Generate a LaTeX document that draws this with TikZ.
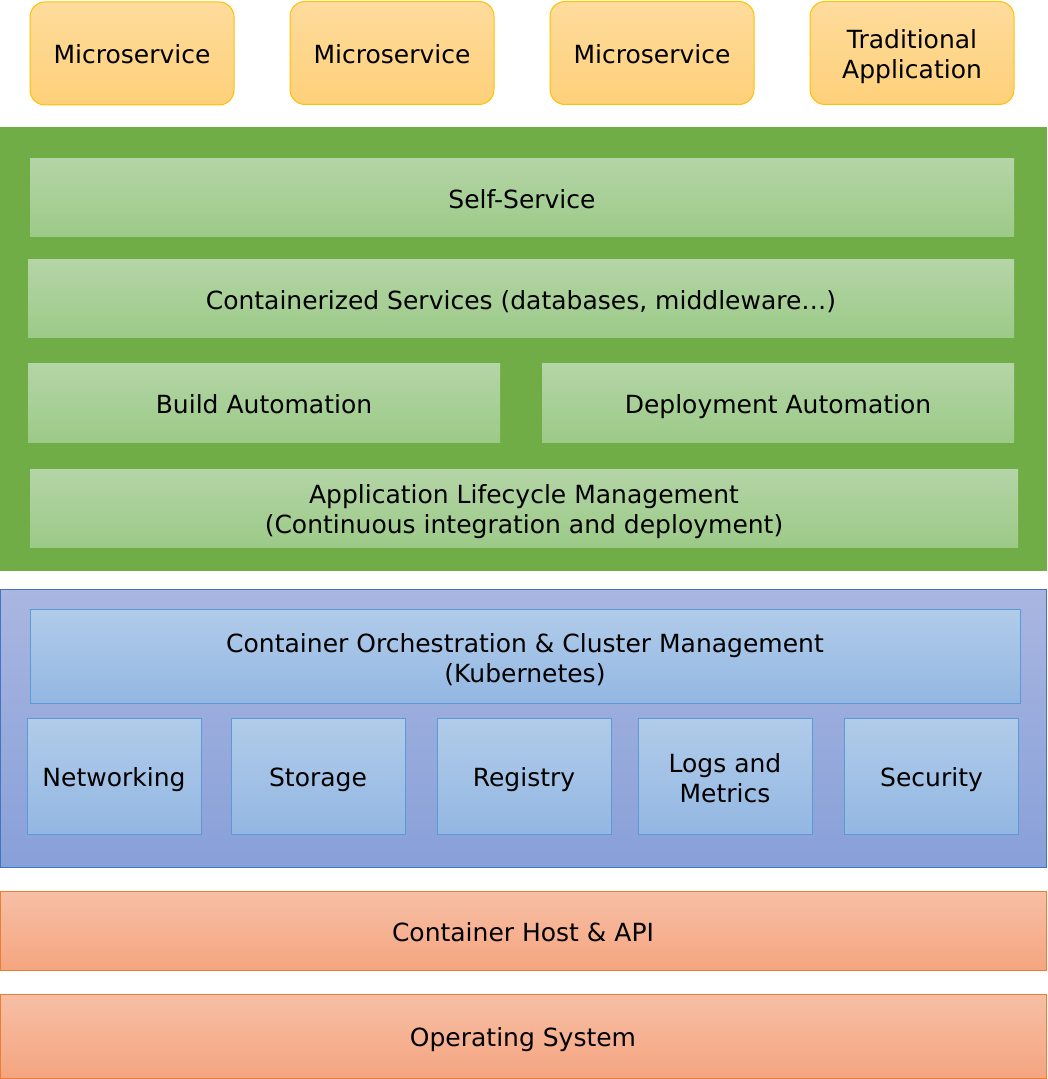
\documentclass[tikz,border=0pt]{standalone}
\usepackage{fontspec}
\setmainfont{DejaVu Sans}
\usepackage{tikz}
\definecolor{appline}{HTML}{FFC000}
\definecolor{apptop}{HTML}{FEDC9C}
\definecolor{appbot}{HTML}{FED07A}
\definecolor{platgreen}{HTML}{70AD47}
\definecolor{gtop}{HTML}{B4D5A6}
\definecolor{gbot}{HTML}{9CCA88}
\definecolor{orchline}{HTML}{4472C4}
\definecolor{otop}{HTML}{A9B6E1}
\definecolor{obot}{HTML}{88A0D8}
\definecolor{cline}{HTML}{5B9BD5}
\definecolor{ctop}{HTML}{B1CCEA}
\definecolor{cbot}{HTML}{93B7E2}
\definecolor{hline}{HTML}{ED7D31}
\definecolor{htop}{HTML}{F7BFA5}
\definecolor{hbot}{HTML}{F5A580}
\newcommand{\topstrut}{\rule{0pt}{13pt}}
\newcommand{\tallstrut}{\rule{0pt}{28.5pt}}
\newcommand{\botstrut}{\rule[-2.5pt]{0pt}{0pt}}
\tikzset{
    every node/.style={rectangle, inner sep=0mm, align=center, font=\fontsize{12.5}{15}\selectfont,
        execute at begin node=\topstrut, execute at end node=\botstrut},
    twoline/.style={execute at begin node=\tallstrut},
    app/.style={draw=appline, line width=0.5pt, rounded corners=7.5pt, top color=apptop, bottom color=appbot,
        minimum width=102pt, minimum height=51.5pt},
    plat/.style={top color=gtop, bottom color=gbot, minimum height=39pt},
    orch/.style={draw=cline, line width=0.5pt, top color=ctop, bottom color=cbot},
    host/.style={draw=hline, line width=0.5pt, top color=htop, bottom color=hbot, minimum width=523pt}
}

\begin{document}
\begin{tikzpicture}[x=0.5pt, y=-0.5pt]
    \useasboundingbox (0,0) rectangle (1047,1079);

    % applications
    \node (ms1) [app] at (132, 53.5) {Microservice};
    \node (ms2) [app] at (392, 53) {Microservice};
    \node (ms3) [app] at (652, 53) {Microservice};
    \node (trad) [app, twoline] at (912, 53) {Traditional\\Application};

    % platform layer
    \node (green) [fill=platgreen, minimum width=523.5pt, minimum height=222pt] at (523.5, 349) {};
    \node (self) [plat, minimum width=492pt] at (522, 198) {Self-Service};
    \node (csvc) [plat, minimum width=493pt] at (521, 299) {Containerized Services (databases, middleware\ldots)};
    \node (build) [plat, minimum width=236pt] at (264, 403) {Build Automation};
    \node (deploy) [plat, minimum width=236pt] at (778, 403) {Deployment Automation};
    \node (alm) [plat, twoline, minimum width=494pt] at (524, 508) {Application Lifecycle Management\\(Continuous integration and deployment)};

    % orchestration layer
    \node (blue) [draw=orchline, line width=0.5pt, top color=otop, bottom color=obot,
        minimum width=523pt, minimum height=139pt] at (523, 728) {};
    \node (k8s) [orch, twoline, minimum width=495pt, minimum height=47pt] at (525, 656) {Container Orchestration \& Cluster Management\\(Kubernetes)};
    \node (net) [orch, minimum width=87pt, minimum height=58pt] at (114, 776) {Networking};
    \node (stor) [orch, minimum width=87pt, minimum height=58pt] at (318, 776) {Storage};
    \node (reg) [orch, minimum width=87pt, minimum height=58pt] at (524, 776) {Registry};
    \node (logs) [orch, twoline, minimum width=87pt, minimum height=58pt] at (725, 776) {Logs and\\Metrics};
    \node (sec) [orch, minimum width=87pt, minimum height=58pt] at (931.5, 776) {Security};

    % host layers
    \node (chost) [host, minimum height=39.5pt] at (523, 930.5) {Container Host \& API};
    \node (os) [host, minimum height=42pt] at (523, 1036) {Operating System};
\end{tikzpicture}
\end{document}
